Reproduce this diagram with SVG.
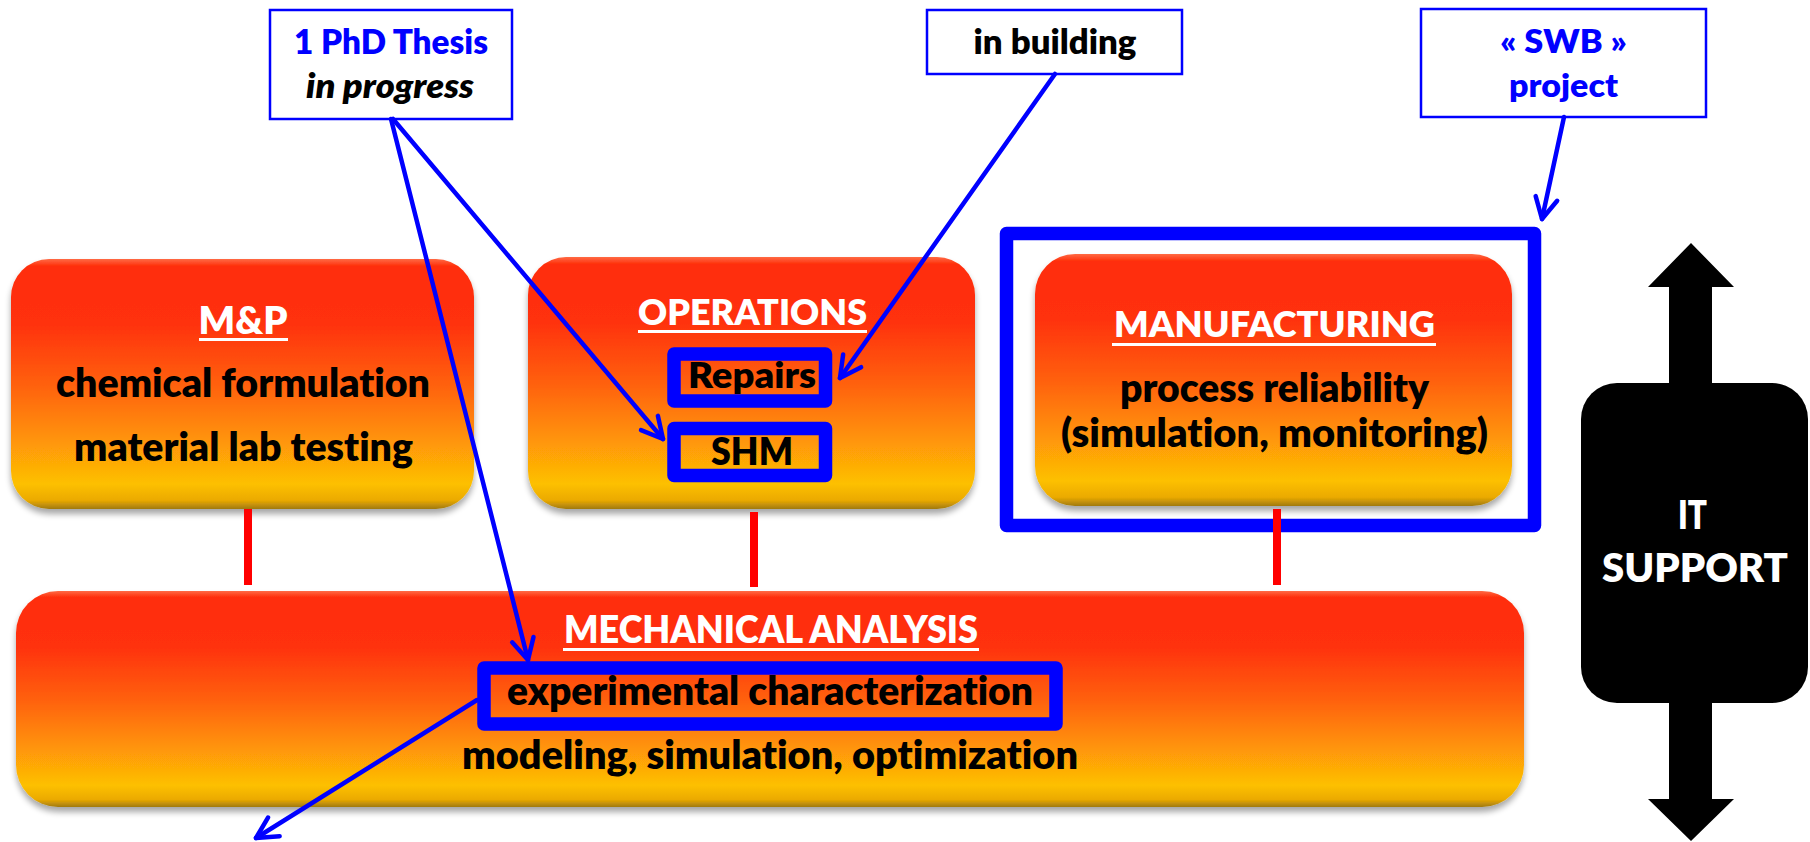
<svg xmlns="http://www.w3.org/2000/svg" width="1810" height="842" viewBox="0 0 1810 842">
<defs>
<linearGradient id="og" x1="0" y1="0" x2="0" y2="1">
<stop offset="0" stop-color="#FF6A45"/>
<stop offset="0.03" stop-color="#FF2D08"/>
<stop offset="0.25" stop-color="#FF300A"/>
<stop offset="0.5" stop-color="#FF600A"/>
<stop offset="0.75" stop-color="#FF9A07"/>
<stop offset="0.9" stop-color="#FDC005"/>
<stop offset="0.965" stop-color="#EBAA02"/>
<stop offset="1" stop-color="#A07A10"/>
</linearGradient>
<filter id="sh" x="-5%" y="-5%" width="110%" height="125%">
<feGaussianBlur in="SourceAlpha" stdDeviation="3"/>
<feOffset dx="0" dy="5" result="b"/>
<feComponentTransfer><feFuncA type="linear" slope="0.35"/></feComponentTransfer>
<feMerge><feMergeNode/><feMergeNode in="SourceGraphic"/></feMerge>
</filter>
<marker id="ah" markerUnits="userSpaceOnUse" markerWidth="40" markerHeight="40" viewBox="-30 -20 40 40" refX="0" refY="0" orient="auto">
<path d="M-21,-11 L0,0 L-21,11" fill="none" stroke="#0000FF" stroke-width="4.5" stroke-linecap="round" stroke-linejoin="round"/>
</marker>
</defs>
<style>
text{font-family:Lato,Carlito,"Liberation Sans",sans-serif;font-weight:800;text-anchor:middle;font-variant-ligatures:none;font-feature-settings:"liga" 0,"dlig" 0}
.box{fill:url(#og);filter:url(#sh)}
.hd{fill:#FFFFFF}
.bd{fill:#000000}
.ul{stroke:#FFFFFF;stroke-width:3}
.call{fill:#FFFFFF;stroke:#0000FF;stroke-width:2.5}
.hl{fill:none;stroke:#0000FF;stroke-width:13.5;stroke-linejoin:round}
.red{stroke:#FF0000;stroke-width:8}
.con{stroke:#0000FF;stroke-width:4.5;fill:none;stroke-linecap:round;marker-end:url(#ah)}
</style>

<g id="mp">
<rect class="box" x="11" y="259" width="463" height="250" rx="38"/>
<text class="hd" x="243" y="334" font-size="37" textLength="89" lengthAdjust="spacingAndGlyphs">M&amp;P</text>
<line class="ul" x1="199" y1="339.5" x2="288" y2="339.5"/>
<text class="bd" x="243" y="397" font-size="39" textLength="374" lengthAdjust="spacingAndGlyphs">chemical formulation</text>
<text class="bd" x="243.5" y="461" font-size="39" textLength="339" lengthAdjust="spacingAndGlyphs">material lab testing</text>
</g>

<g id="operations">
<rect class="box" x="528" y="257" width="447" height="252" rx="38"/>
<text class="hd" x="752.5" y="325" font-size="36" textLength="229" lengthAdjust="spacingAndGlyphs">OPERATIONS</text>
<line class="ul" x1="638" y1="331.5" x2="867" y2="331.5"/>
<rect class="hl" x="674" y="354" width="151.5" height="47"/>
<text class="bd" x="752" y="388" font-size="36" textLength="128" lengthAdjust="spacingAndGlyphs">Repairs</text>
<rect class="hl" x="674" y="428.5" width="151.5" height="47"/>
<text class="bd" x="752" y="465" font-size="37" textLength="82" lengthAdjust="spacingAndGlyphs">SHM</text>
</g>

<g id="manufacturing">
<rect class="box" x="1035" y="254" width="477" height="252" rx="40"/>
<text class="hd" x="1274.5" y="337" font-size="36" textLength="321" lengthAdjust="spacingAndGlyphs">MANUFACTURING</text>
<line class="ul" x1="1112" y1="344.5" x2="1436" y2="344.5"/>
<text class="bd" x="1274.5" y="402" font-size="39" textLength="309" lengthAdjust="spacingAndGlyphs">process reliability</text>
<text class="bd" x="1274.5" y="447" font-size="39" textLength="427" lengthAdjust="spacingAndGlyphs">(simulation, monitoring)</text>
</g>

<g id="swb-frame">
<rect class="hl" x="1006.5" y="233.5" width="528" height="292" stroke-width="13"/>
</g>

<g id="mechanical">
<rect class="box" x="16" y="591" width="1508" height="216" rx="42"/>
<text class="hd" x="771" y="643" font-size="37" textLength="414" lengthAdjust="spacingAndGlyphs">MECHANICAL ANALYSIS</text>
<line class="ul" x1="563" y1="649.5" x2="979" y2="649.5"/>
<rect class="hl" x="484" y="668" width="572" height="56" stroke-width="13"/>
<text class="bd" x="770" y="705" font-size="39" textLength="526" lengthAdjust="spacingAndGlyphs">experimental characterization</text>
<text class="bd" x="770" y="769" font-size="39" textLength="616" lengthAdjust="spacingAndGlyphs">modeling, simulation, optimization</text>
</g>

<g id="it-support">
<polygon points="1691,243 1734,287 1712,287 1712,799 1734,799 1691,841 1648,799 1669,799 1669,287 1648,287" fill="#000000"/>
<rect x="1581" y="383" width="227" height="320" rx="36" fill="#000000"/>
<text class="hd" x="1692.5" y="529" font-size="40" textLength="29" lengthAdjust="spacingAndGlyphs">IT</text>
<text class="hd" x="1695" y="582" font-size="40" textLength="186" lengthAdjust="spacingAndGlyphs">SUPPORT</text>
</g>

<g id="phd-callout">
<rect class="call" x="270" y="10" width="242" height="109"/>
<text x="391" y="54" font-size="33" fill="#0000FF" textLength="194" lengthAdjust="spacingAndGlyphs">1 PhD Thesis</text>
<text x="390" y="98" font-size="33" font-style="italic" fill="#000000" textLength="168" lengthAdjust="spacingAndGlyphs">in progress</text>
</g>

<g id="building-callout">
<rect class="call" x="927" y="10" width="255" height="64"/>
<text x="1055" y="54" font-size="33" fill="#000000" textLength="163" lengthAdjust="spacingAndGlyphs">in building</text>
</g>

<g id="swb-callout">
<rect class="call" x="1421" y="9" width="285" height="108"/>
<text x="1563.5" y="53" font-size="32" fill="#0000FF" textLength="127" lengthAdjust="spacingAndGlyphs">« SWB »</text>
<text x="1563.5" y="97" font-size="32" fill="#0000FF" textLength="109" lengthAdjust="spacingAndGlyphs">project</text>
</g>

<g id="connectors">
<line class="red" x1="248" y1="509" x2="248" y2="585"/>
<line class="red" x1="754" y1="512" x2="754" y2="587"/>
<line class="red" x1="1277" y1="509" x2="1277" y2="585"/>
<line class="con" x1="391" y1="119" x2="528" y2="660"/>
<line class="con" x1="393" y1="119" x2="663" y2="439"/>
<line class="con" x1="1055" y1="74" x2="840" y2="378"/>
<line class="con" x1="1564" y1="117" x2="1542" y2="219"/>
<line class="con" x1="477" y1="700" x2="256" y2="838"/>
</g>
</svg>
